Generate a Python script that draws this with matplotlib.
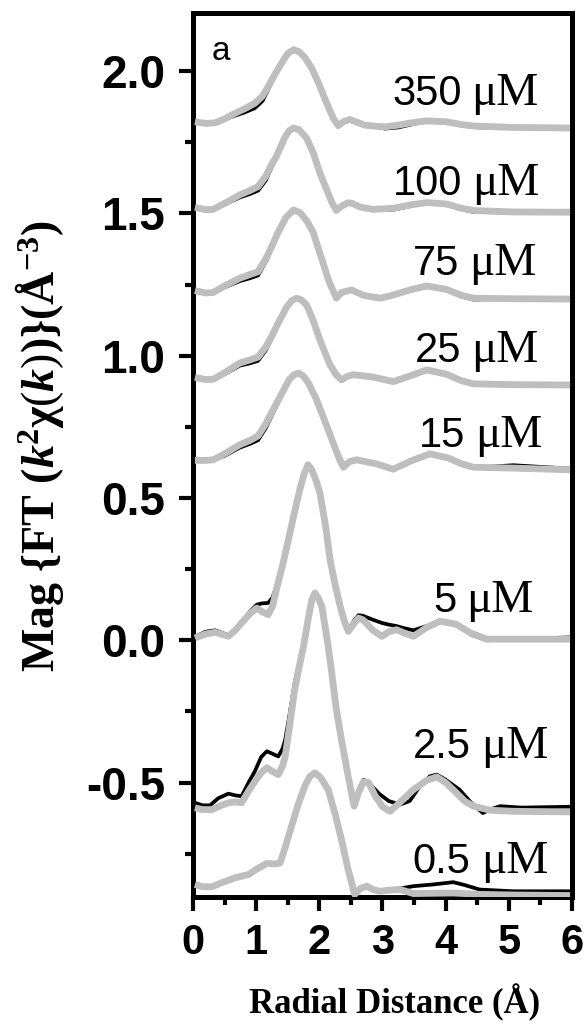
import matplotlib
matplotlib.use('Agg')
import matplotlib.pyplot as plt
from matplotlib.ticker import MultipleLocator

# ----------------------------------------------
# data (R in Angstrom, stacked magnitudes)
# fit_* = gray fit line, dat_* = black data line

labels = ["350", "100", "75", "25", "15", "5", "2.5", "0.5"]

r_350 = [0.03, 0.20, 0.35, 0.50, 0.66, 0.82, 0.98, 1.10, 1.19, 1.30, 1.40, 1.50, 1.59, 1.68, 1.77, 1.88, 1.98, 2.06, 2.14, 2.22, 2.30, 2.38, 2.48, 2.60, 2.72, 2.90, 3.04, 3.25, 3.45, 3.70, 4.01, 4.25, 4.44, 5.07, 5.97]
fit_350 = [1.822, 1.816, 1.818, 1.832, 1.851, 1.868, 1.887, 1.912, 1.945, 1.990, 2.027, 2.062, 2.074, 2.068, 2.048, 2.010, 1.962, 1.918, 1.875, 1.835, 1.808, 1.822, 1.830, 1.820, 1.810, 1.806, 1.804, 1.810, 1.818, 1.825, 1.822, 1.812, 1.807, 1.802, 1.800]
dat_350 = [1.822, 1.816, 1.818, 1.830, 1.843, 1.855, 1.870, 1.895, 1.935, 1.985, 2.027, 2.064, 2.079, 2.071, 2.048, 2.010, 1.962, 1.918, 1.875, 1.835, 1.808, 1.822, 1.830, 1.820, 1.810, 1.804, 1.798, 1.802, 1.812, 1.825, 1.822, 1.810, 1.803, 1.800, 1.800]

r_100 = [0.03, 0.20, 0.32, 0.50, 0.74, 0.90, 1.03, 1.15, 1.25, 1.32, 1.45, 1.52, 1.59, 1.68, 1.80, 1.90, 2.01, 2.14, 2.20, 2.27, 2.35, 2.45, 2.51, 2.65, 2.85, 3.17, 3.45, 3.70, 4.01, 4.25, 4.45, 5.07, 5.97]
fit_100 = [1.521, 1.513, 1.514, 1.535, 1.565, 1.580, 1.594, 1.630, 1.675, 1.700, 1.765, 1.790, 1.800, 1.794, 1.764, 1.715, 1.641, 1.570, 1.538, 1.510, 1.525, 1.537, 1.536, 1.522, 1.514, 1.518, 1.530, 1.538, 1.533, 1.518, 1.510, 1.505, 1.504]
dat_100 = [1.521, 1.513, 1.514, 1.532, 1.556, 1.568, 1.580, 1.615, 1.665, 1.694, 1.765, 1.792, 1.803, 1.796, 1.764, 1.715, 1.641, 1.570, 1.538, 1.510, 1.525, 1.537, 1.536, 1.522, 1.514, 1.513, 1.526, 1.540, 1.533, 1.515, 1.505, 1.503, 1.504]

r_75 = [0.03, 0.20, 0.32, 0.50, 0.74, 0.90, 1.03, 1.17, 1.25, 1.34, 1.47, 1.59, 1.70, 1.80, 1.90, 2.06, 2.15, 2.27, 2.35, 2.51, 2.70, 2.96, 3.17, 3.45, 3.70, 4.01, 4.25, 4.44, 5.07, 5.97]
fit_75 = [1.229, 1.220, 1.222, 1.245, 1.272, 1.285, 1.295, 1.348, 1.385, 1.430, 1.485, 1.512, 1.502, 1.474, 1.435, 1.325, 1.262, 1.202, 1.222, 1.231, 1.212, 1.202, 1.213, 1.232, 1.245, 1.233, 1.212, 1.202, 1.200, 1.199]
dat_75 = [1.229, 1.220, 1.222, 1.240, 1.262, 1.272, 1.282, 1.338, 1.380, 1.428, 1.487, 1.515, 1.504, 1.474, 1.435, 1.325, 1.262, 1.202, 1.222, 1.231, 1.212, 1.200, 1.210, 1.232, 1.248, 1.233, 1.208, 1.197, 1.202, 1.199]

r_25 = [0.03, 0.20, 0.32, 0.50, 0.74, 0.90, 1.03, 1.15, 1.25, 1.32, 1.48, 1.56, 1.64, 1.72, 1.80, 1.90, 2.01, 2.10, 2.17, 2.26, 2.35, 2.45, 2.54, 2.85, 3.17, 3.45, 3.70, 4.01, 4.25, 4.44, 5.07, 5.97]
fit_25 = [0.924, 0.916, 0.917, 0.940, 0.974, 0.985, 0.995, 1.030, 1.070, 1.102, 1.170, 1.193, 1.202, 1.195, 1.178, 1.125, 1.055, 1.005, 0.968, 0.935, 0.915, 0.928, 0.933, 0.925, 0.909, 0.930, 0.950, 0.935, 0.912, 0.901, 0.898, 0.897]
dat_25 = [0.924, 0.916, 0.917, 0.935, 0.965, 0.973, 0.982, 1.018, 1.062, 1.095, 1.170, 1.195, 1.206, 1.198, 1.180, 1.125, 1.055, 1.005, 0.968, 0.930, 0.911, 0.926, 0.933, 0.925, 0.907, 0.930, 0.952, 0.935, 0.910, 0.899, 0.900, 0.897]

r_15 = [0.03, 0.20, 0.32, 0.50, 0.74, 0.90, 1.03, 1.15, 1.28, 1.38, 1.52, 1.60, 1.67, 1.75, 1.83, 1.95, 2.06, 2.16, 2.25, 2.32, 2.38, 2.48, 2.59, 2.90, 3.17, 3.45, 3.75, 4.05, 4.25, 4.44, 5.07, 5.97]
fit_15 = [0.632, 0.632, 0.634, 0.655, 0.687, 0.702, 0.718, 0.760, 0.815, 0.856, 0.915, 0.933, 0.939, 0.928, 0.903, 0.848, 0.786, 0.728, 0.675, 0.635, 0.608, 0.628, 0.634, 0.620, 0.601, 0.630, 0.655, 0.640, 0.620, 0.608, 0.605, 0.599]
dat_15 = [0.632, 0.632, 0.634, 0.648, 0.677, 0.690, 0.703, 0.745, 0.805, 0.850, 0.915, 0.935, 0.942, 0.930, 0.903, 0.848, 0.786, 0.728, 0.680, 0.645, 0.618, 0.630, 0.634, 0.620, 0.603, 0.630, 0.658, 0.640, 0.618, 0.606, 0.615, 0.603]

r_5 = [0.03, 0.20, 0.35, 0.56, 0.67, 0.77, 0.90, 1.01, 1.10, 1.19, 1.26, 1.32, 1.42, 1.51, 1.60, 1.69, 1.76, 1.82, 1.88, 1.95, 2.01, 2.10, 2.17, 2.25, 2.33, 2.40, 2.46, 2.55, 2.62, 2.69, 2.85, 2.99, 3.10, 3.22, 3.35, 3.49, 3.70, 3.91, 4.17, 4.40, 4.65, 5.97]
fit_5 = [0.008, 0.022, 0.028, 0.014, 0.035, 0.061, 0.093, 0.113, 0.100, 0.090, 0.120, 0.178, 0.265, 0.353, 0.443, 0.529, 0.585, 0.617, 0.600, 0.560, 0.517, 0.400, 0.283, 0.195, 0.119, 0.065, 0.031, 0.060, 0.078, 0.072, 0.035, 0.014, 0.030, 0.037, 0.025, 0.014, 0.045, 0.067, 0.056, 0.025, 0.004, 0.004]
dat_5 = [0.012, 0.030, 0.035, 0.018, 0.040, 0.065, 0.100, 0.125, 0.130, 0.131, 0.150, 0.190, 0.270, 0.353, 0.443, 0.529, 0.587, 0.620, 0.602, 0.560, 0.517, 0.400, 0.283, 0.195, 0.119, 0.065, 0.031, 0.070, 0.088, 0.086, 0.072, 0.061, 0.055, 0.050, 0.042, 0.035, 0.050, 0.065, 0.056, 0.020, 0.000, 0.010]

r_2p5 = [0.03, 0.15, 0.30, 0.45, 0.56, 0.67, 0.77, 0.88, 0.98, 1.08, 1.17, 1.27, 1.35, 1.42, 1.46, 1.53, 1.61, 1.68, 1.75, 1.82, 1.88, 1.93, 1.98, 2.04, 2.09, 2.14, 2.20, 2.27, 2.35, 2.45, 2.55, 2.62, 2.70, 2.78, 2.88, 3.00, 3.12, 3.30, 3.49, 3.70, 3.86, 4.00, 4.17, 4.30, 4.44, 4.70, 5.07, 5.97]
fit_2p5 = [-0.589, -0.595, -0.595, -0.580, -0.571, -0.568, -0.571, -0.530, -0.496, -0.465, -0.448, -0.462, -0.472, -0.440, -0.408, -0.300, -0.173, -0.095, -0.021, 0.070, 0.142, 0.166, 0.150, 0.119, 0.050, -0.021, -0.120, -0.244, -0.349, -0.470, -0.583, -0.535, -0.497, -0.500, -0.545, -0.585, -0.601, -0.565, -0.525, -0.492, -0.480, -0.500, -0.536, -0.565, -0.583, -0.597, -0.601, -0.603]
rd_2p5 = [0.03, 0.15, 0.27, 0.40, 0.56, 0.67, 0.77, 0.88, 0.98, 1.08, 1.17, 1.27, 1.35, 1.42, 1.46, 1.53, 1.61, 1.68, 1.75, 1.82, 1.88, 1.93, 1.98, 2.04, 2.09, 2.14, 2.20, 2.27, 2.35, 2.45, 2.55, 2.62, 2.70, 2.80, 2.95, 3.10, 3.28, 3.43, 3.60, 3.75, 3.86, 4.00, 4.22, 4.40, 4.59, 4.70, 4.86, 5.20, 5.97]
dat_2p5 = [-0.571, -0.580, -0.580, -0.555, -0.539, -0.545, -0.548, -0.500, -0.460, -0.410, -0.390, -0.400, -0.408, -0.380, -0.349, -0.260, -0.150, -0.080, -0.010, 0.075, 0.142, 0.168, 0.150, 0.119, 0.050, -0.021, -0.120, -0.244, -0.349, -0.470, -0.583, -0.525, -0.490, -0.505, -0.540, -0.565, -0.577, -0.565, -0.510, -0.478, -0.472, -0.490, -0.525, -0.570, -0.607, -0.595, -0.583, -0.588, -0.585]

r_0p5 = [0.03, 0.15, 0.30, 0.45, 0.66, 0.88, 1.00, 1.17, 1.30, 1.38, 1.47, 1.56, 1.66, 1.77, 1.85, 1.93, 2.02, 2.14, 2.25, 2.35, 2.45, 2.56, 2.65, 2.75, 2.85, 2.96, 3.10, 3.28, 3.49, 3.80, 4.12, 4.30, 4.54, 5.07, 5.97]
fit_0p5 = [-0.858, -0.866, -0.866, -0.852, -0.835, -0.823, -0.805, -0.784, -0.786, -0.782, -0.720, -0.653, -0.580, -0.513, -0.478, -0.466, -0.482, -0.525, -0.610, -0.700, -0.800, -0.893, -0.872, -0.864, -0.876, -0.882, -0.878, -0.876, -0.890, -0.889, -0.888, -0.890, -0.893, -0.895, -0.897]
dat_0p5 = [-0.858, -0.866, -0.866, -0.852, -0.835, -0.823, -0.805, -0.784, -0.786, -0.782, -0.720, -0.653, -0.580, -0.513, -0.478, -0.466, -0.482, -0.525, -0.610, -0.700, -0.800, -0.893, -0.872, -0.864, -0.876, -0.882, -0.878, -0.872, -0.864, -0.858, -0.850, -0.860, -0.876, -0.882, -0.882]

# where the concentration labels sit (left edge, baseline)
label_x = [3.15, 3.16, 3.48, 3.51, 3.58, 3.80, 3.48, 3.48]
label_y = [1.881, 1.565, 1.284, 0.978, 0.680, 0.100, -0.412, -0.816]

# ----------------------------------------------

plt.rcParams['mathtext.fontset'] = 'custom'
plt.rcParams['mathtext.rm'] = 'Liberation Serif'
plt.rcParams['mathtext.it'] = 'Liberation Serif:italic'
plt.rcParams['mathtext.bf'] = 'Liberation Serif:bold'
plt.rcParams['mathtext.bfit'] = 'Liberation Serif:italic:bold'
plt.rcParams['axes.unicode_minus'] = False

fig = plt.figure(figsize=(5.87, 10.25), dpi=100)
ax = fig.add_axes([0.3288, 0.1249, 0.6456, 0.8624])

dataCurves = [(r_350, dat_350), (r_100, dat_100), (r_75, dat_75), (r_25, dat_25),
              (r_15, dat_15), (r_5, dat_5), (rd_2p5, dat_2p5), (r_0p5, dat_0p5)]
fitCurves = [(r_350, fit_350), (r_100, fit_100), (r_75, fit_75), (r_25, fit_25),
             (r_15, fit_15), (r_5, fit_5), (r_2p5, fit_2p5), (r_0p5, fit_0p5)]

for (rd, yd), (rf, yf) in zip(dataCurves, fitCurves):
  ax.plot(rd, yd, color='black', lw=2.7, solid_joinstyle='round', zorder=2)
  ax.plot(rf, yf, color='#bebebe', lw=4.9, solid_joinstyle='round', solid_capstyle='butt', zorder=3)

ax.set_xlim(0, 6)
ax.set_ylim(-0.902, 2.204)

# number part in sans, "μM" in serif right after it
numTexts = []
for name, lx, ly in zip(labels, label_x, label_y):
  t = ax.text(lx, ly, name, fontfamily='Liberation Sans', fontsize=30,
              va='baseline', ha='left', zorder=4)
  numTexts.append(t)

fig.canvas.draw()
renderer = fig.canvas.get_renderer()
for t, ly in zip(numTexts, label_y):
  bb = t.get_window_extent(renderer)
  xEnd = ax.transData.inverted().transform((bb.x1 + 10, bb.y0))[0]
  ax.text(xEnd, ly, 'μM', fontfamily='Liberation Serif', fontsize=34,
          va='baseline', ha='left', zorder=4)

ax.text(0.30, 2.039, 'a', fontfamily='Liberation Sans', fontsize=24, va='baseline')

ax.xaxis.set_major_locator(MultipleLocator(1))
ax.xaxis.set_minor_locator(MultipleLocator(0.5))
ax.yaxis.set_major_locator(MultipleLocator(0.5))
ax.yaxis.set_minor_locator(MultipleLocator(0.25))

for s in ax.spines.values():
  s.set_linewidth(3.6)
ax.tick_params(which='major', direction='out', length=10, width=3)
ax.tick_params(which='minor', direction='out', length=6, width=3)
ax.tick_params(axis='y', which='major', pad=10)
ax.tick_params(axis='x', which='major', pad=9)

for t in ax.get_yticklabels():
  t.set_fontfamily('Liberation Sans')
  t.set_fontweight('bold')
  t.set_fontsize(33)
for t in ax.get_xticklabels():
  t.set_fontfamily('Liberation Sans')
  t.set_fontweight('bold')
  t.set_fontsize(30)

fig.text(0.673, 0.011, 'Radial Distance (Å)', fontfamily='Liberation Serif',
         fontweight='bold', fontsize=25, ha='center', va='baseline')
fig.text(0.068, 0.5644, r"Mag {FT ($\mathbfit{k}^{\mathbf{2}}\mathbf{\chi}(\mathbfit{k})$)}(Å$^{\mathbf{-3}}$)",
         fontfamily='Liberation Serif', fontweight='bold', fontsize=33,
         rotation=90, ha='center', va='center')

fig.savefig('out.png', dpi=100)
